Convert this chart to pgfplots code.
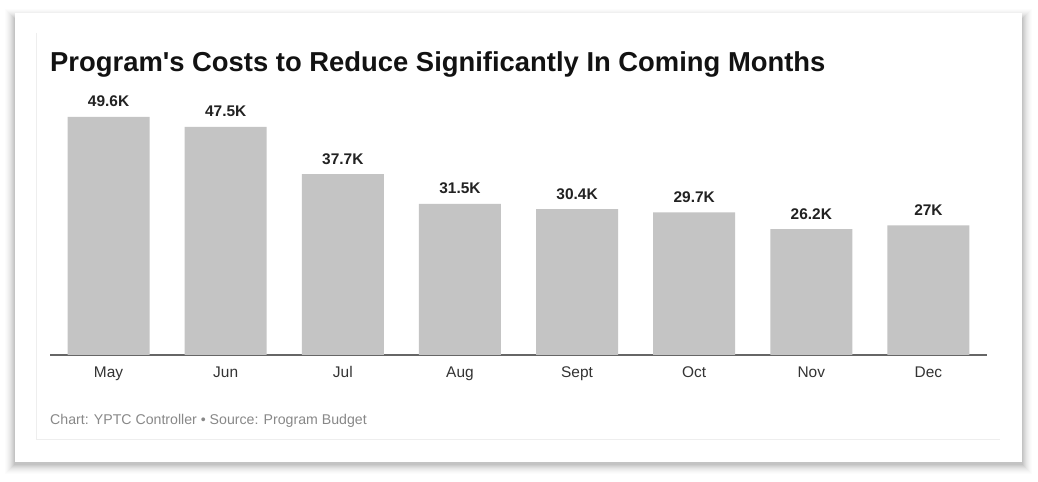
\documentclass[border=0pt]{standalone}
\usepackage{fontspec}
\setmainfont{Liberation Sans}[Ligatures=TeXOff]
\usepackage{pgfplots}
\usepackage{pgfplotstable}
\pgfplotsset{compat=1.18}
\definecolor{barc}{HTML}{C4C4C4}
\definecolor{axc}{HTML}{666666}
\definecolor{tickc}{HTML}{333333}
\definecolor{valc}{HTML}{222222}
\definecolor{footc}{HTML}{888888}
\definecolor{panelc}{HTML}{EEEEEE}
\pgfplotstableread{
x v lab
0 49.6 49.6K
1 47.5 47.5K
2 37.7 37.7K
3 31.5 31.5K
4 30.4 30.4K
5 29.7 29.7K
6 26.2 26.2K
7 27 27K
}\costs
\begin{document}
\begin{tikzpicture}[x=1bp,y=1bp]
\fill[white] (0,0) rectangle (1038,482);
% card shadow
\foreach \i/\o in {10/0.01,9/0.012,8/0.015,7/0.018,6/0.021,5/0.025,4/0.03,3/0.035,2/0.04,1/0.045} {
  \fill[black,opacity=\o] (15-\i,18-\i) rectangle (1022+\i,467+\i-4);
}
\fill[white] (15,20) rectangle (1022,469);
\draw[panelc,line width=1bp] (36,449) -- (36,42) -- (1000,42);
% title
\node[anchor=base west,inner sep=0pt,font=\bfseries\fontsize{27.5}{31}\selectfont,text=black!93] at (50,410) {Program's Costs to Reduce Significantly In Coming Months};
% footer
\node[anchor=base west,inner sep=0pt,font=\fontsize{14.2}{17}\selectfont,text=footc] at (50,57) {Chart: YPTC Controller • Source: Program Budget};
\begin{axis}[
  at={(50bp,127bp)}, anchor=south west,
  scale only axis, width=937bp, height=254.4bp,
  xmin=-0.5, xmax=7.5, ymin=0, ymax=53,
  axis x line=bottom, axis y line=none,
  axis line style={-,axc,line width=1.5bp},
  xtick=data, xticklabels={May,Jun,Jul,Aug,Sept,Oct,Nov,Dec},
  major tick length=0pt,
  xticklabel style={font=\fontsize{15.5}{18}\selectfont,text=tickc,anchor=base,yshift=-23bp,inner sep=0pt},
  ybar, bar width=82bp,
  point meta=explicit symbolic,
  nodes near coords,
  every node near coord/.append style={font=\bfseries\fontsize{15.5}{18}\selectfont,text=valc,anchor=base,inner sep=0pt,yshift=10bp},
  clip=false,
]
\addplot[fill=barc,draw=none] table[x=x,y=v,meta=lab] {\costs};
\end{axis}
\end{tikzpicture}
\end{document}
